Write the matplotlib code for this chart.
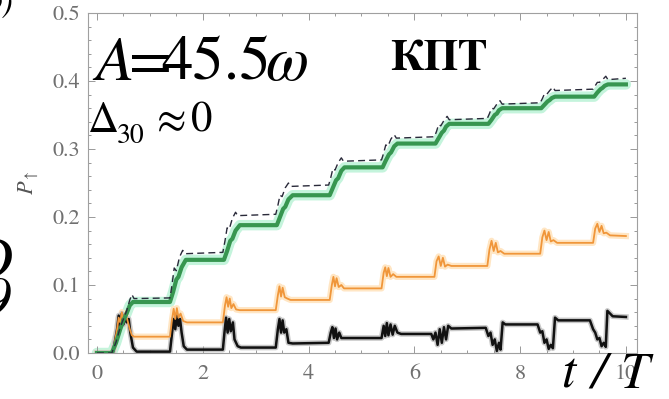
import matplotlib
matplotlib.use("Agg")
import matplotlib.pyplot as plt
from matplotlib.ticker import MultipleLocator

plt.rcParams['mathtext.fontset'] = 'stix'

# KPT population, solid green
green_t = [0, 0.28, 0.36, 0.44, 0.5, 0.56, 0.62, 0.68, 1.38,
           1.44, 1.5, 1.54, 1.6, 1.68, 2.4,
           2.46, 2.52, 2.56, 2.62, 2.7, 3.4,
           3.46, 3.52, 3.56, 3.62, 3.7, 4.4,
           4.46, 4.52, 4.56, 4.62, 4.68, 5.4,
           5.46, 5.52, 5.56, 5.62, 5.68, 6.4,
           6.46, 6.52, 6.56, 6.6, 6.66, 7.4,
           7.46, 7.52, 7.56, 7.6, 7.66, 8.4,
           8.46, 8.52, 8.56, 8.6, 8.66, 9.4,
           9.46, 9.52, 9.56, 9.6, 9.66, 10.0]
green_p = [0, 0, 0.015, 0.035, 0.048, 0.058, 0.07, 0.075, 0.075,
           0.09, 0.108, 0.112, 0.126, 0.137, 0.137,
           0.15, 0.165, 0.168, 0.18, 0.188, 0.188,
           0.2, 0.212, 0.215, 0.226, 0.232, 0.232,
           0.243, 0.254, 0.257, 0.268, 0.273, 0.273,
           0.283, 0.292, 0.295, 0.304, 0.308, 0.308,
           0.316, 0.324, 0.327, 0.333, 0.337, 0.337,
           0.343, 0.35, 0.352, 0.357, 0.36, 0.36,
           0.365, 0.37, 0.372, 0.375, 0.377, 0.377,
           0.383, 0.388, 0.39, 0.393, 0.395, 0.395]

# exact numerics, dashed
dash_t = [0, 0.28, 0.36, 0.44, 0.5, 0.56, 0.62, 0.66, 0.7, 1.38,
          1.42, 1.46, 1.5, 1.56, 1.62, 1.66, 2.38,
          2.42, 2.46, 2.5, 2.56, 2.62, 2.66, 3.38,
          3.42, 3.46, 3.5, 3.56, 3.62, 3.66, 4.38,
          4.42, 4.46, 4.5, 4.56, 4.62, 4.66, 5.38,
          5.42, 5.46, 5.5, 5.56, 5.62, 5.66, 6.38,
          6.42, 6.46, 6.5, 6.56, 6.62, 6.66, 7.38,
          7.42, 7.46, 7.5, 7.56, 7.62, 7.66, 8.38,
          8.42, 8.46, 8.5, 8.56, 8.62, 8.66, 9.38,
          9.42, 9.46, 9.5, 9.56, 9.62, 9.66, 10.0]
dash_p = [0, 0, 0.016, 0.038, 0.05, 0.062, 0.078, 0.086, 0.08, 0.081,
          0.101, 0.125, 0.121, 0.141, 0.151, 0.146, 0.148,
          0.165, 0.184, 0.182, 0.198, 0.207, 0.202, 0.204,
          0.217, 0.232, 0.230, 0.243, 0.250, 0.245, 0.247,
          0.258, 0.271, 0.269, 0.280, 0.287, 0.282, 0.284,
          0.294, 0.306, 0.304, 0.315, 0.321, 0.316, 0.318,
          0.326, 0.336, 0.334, 0.342, 0.348, 0.343, 0.345,
          0.352, 0.360, 0.359, 0.366, 0.371, 0.366, 0.368,
          0.374, 0.381, 0.380, 0.386, 0.391, 0.386, 0.388,
          0.393, 0.398, 0.398, 0.402, 0.407, 0.402, 0.404]

# orange curve
orange_t = [0, 0.3, 0.38, 0.41, 0.44, 0.47, 0.5, 0.53, 0.57, 0.62, 0.66, 0.7, 1.38,
            1.42, 1.45, 1.48, 1.51, 1.54, 1.58, 1.63, 1.7, 2.38,
            2.42, 2.45, 2.48, 2.51, 2.54, 2.58, 2.63, 2.7, 3.38,
            3.42, 3.45, 3.48, 3.51, 3.55, 3.6, 3.66, 4.4,
            4.44, 4.47, 4.5, 4.53, 4.57, 4.62, 4.67, 5.38,
            5.42, 5.45, 5.48, 5.51, 5.55, 5.6, 5.66, 6.38,
            6.42, 6.46, 6.5, 6.54, 6.58, 6.63, 6.7, 7.38,
            7.42, 7.46, 7.5, 7.54, 7.58, 7.63, 7.7, 8.38,
            8.42, 8.46, 8.5, 8.54, 8.58, 8.63, 8.7, 9.38,
            9.42, 9.46, 9.5, 9.54, 9.58, 9.63, 9.7, 10.0]
orange_p = [0, 0, 0.035, 0.052, 0.045, 0.06, 0.048, 0.058, 0.05, 0.035, 0.026, 0.024, 0.024,
            0.05, 0.065, 0.05, 0.066, 0.052, 0.058, 0.047, 0.045, 0.045,
            0.07, 0.082, 0.068, 0.08, 0.066, 0.072, 0.064, 0.063, 0.063,
            0.085, 0.098, 0.083, 0.096, 0.082, 0.08, 0.078, 0.078,
            0.1, 0.112, 0.098, 0.11, 0.097, 0.1, 0.095, 0.095,
            0.118, 0.126, 0.113, 0.125, 0.112, 0.116, 0.112, 0.112,
            0.135, 0.142, 0.128, 0.14, 0.127, 0.13, 0.128, 0.128,
            0.152, 0.165, 0.15, 0.162, 0.148, 0.15, 0.146, 0.146,
            0.17, 0.18, 0.166, 0.178, 0.164, 0.166, 0.162, 0.162,
            0.183, 0.19, 0.178, 0.187, 0.176, 0.177, 0.173, 0.172]

# black curve
black_t = [0, 0.3, 0.38, 0.41, 0.44, 0.47, 0.5, 0.53, 0.56, 0.6, 0.63, 0.68, 0.75, 1.38,
           1.42, 1.45, 1.48, 1.51, 1.54, 1.57, 1.6, 1.64, 1.7, 2.38,
           2.41, 2.44, 2.47, 2.5, 2.53, 2.57, 2.6, 2.66, 2.72, 3.38,
           3.42, 3.45, 3.48, 3.51, 3.54, 3.58, 3.62, 3.7, 4.38,
           4.42, 4.45, 4.48, 4.51, 4.54, 4.58, 4.62, 4.7, 5.38,
           5.42, 5.45, 5.48, 5.51, 5.55, 5.59, 5.63, 5.68, 5.75, 6.32,
           6.36, 6.4, 6.44, 6.48, 6.52, 6.56, 6.6, 6.64, 6.7, 7.35,
           7.4, 7.44, 7.48, 7.52, 7.56, 7.6, 7.63, 7.67, 7.72, 8.33,
           8.38, 8.42, 8.46, 8.5, 8.54, 8.58, 8.62, 8.66, 8.72, 9.32,
           9.38, 9.42, 9.46, 9.5, 9.54, 9.58, 9.62, 9.65, 9.7, 9.75, 10.0]
black_p = [0, 0, 0.035, 0.055, 0.04, 0.058, 0.042, 0.056, 0.045, 0.05, 0.03, 0.008, 0.002, 0.002,
           0.03, 0.05, 0.035, 0.055, 0.04, 0.05, 0.03, 0.01, 0.005, 0.005,
           0.03, 0.052, 0.03, 0.05, 0.032, 0.045, 0.02, 0.01, 0.008, 0.008,
           0.035, 0.05, 0.03, 0.048, 0.03, 0.035, 0.015, 0.014, 0.015,
           0.03, 0.038, 0.022, 0.036, 0.02, 0.03, 0.022, 0.022, 0.022,
           0.04, 0.025, 0.044, 0.026, 0.042, 0.027, 0.04, 0.03, 0.028, 0.028,
           0.02, 0.03, 0.012, 0.035, 0.015, 0.038, 0.02, 0.04, 0.036, 0.037,
           0.025, 0.03, 0.012, 0.02, 0.003, 0.015, 0.005, 0.045, 0.042, 0.042,
           0.03, 0.032, 0.015, 0.02, 0.006, 0.012, 0.007, 0.052, 0.048, 0.048,
           0.035, 0.03, 0.02, 0.022, 0.01, 0.015, 0.009, 0.062, 0.058, 0.054, 0.053]

xticks = [0, 2, 4, 6, 8, 10]
yticks = [0.0, 0.1, 0.2, 0.3, 0.4, 0.5]

serif = 'STIXGeneral'

W, H = 669, 399
fig = plt.figure(figsize=(W / 100, H / 100), dpi=100)
ax = fig.add_axes([88 / W, 1 - 353 / H, (637 - 88) / W, (353 - 13) / H])

# soft halos under the curves
ax.plot(green_t, green_p, color='#c4f4dc', lw=7.5, solid_capstyle='round', zorder=1)
ax.plot(orange_t, orange_p, color='#ffe6c4', lw=4.5, zorder=1)
ax.plot(black_t, black_p, color='#c8c8c8', lw=4, zorder=1)

ax.plot(black_t, black_p, color='#111111', lw=1.8, zorder=3)
ax.plot(orange_t, orange_p, color='#f0963a', lw=1.3, zorder=3)
ax.plot(green_t, green_p, color='#379650', lw=3.0, zorder=4)
ax.plot(dash_t, dash_p, color='#2a2a3a', lw=1.0, dashes=(5, 3), zorder=5)

ax.set_xlim(-0.17, 10.21)
ax.set_ylim(0, 0.5)
ax.set_xticks(xticks)
ax.set_xticklabels([str(v) for v in xticks])
ax.set_yticks(yticks)
ax.set_yticklabels(['%.1f' % v for v in yticks])
ax.xaxis.set_minor_locator(MultipleLocator(0.5))
ax.yaxis.set_minor_locator(MultipleLocator(0.02))
ax.tick_params(which='both', direction='in', top=True, right=True,
               color='#999999', width=0.7)
ax.tick_params(which='major', length=5)
ax.tick_params(which='minor', length=2.5)
ax.tick_params(axis='x', which='major', pad=8)
ax.tick_params(axis='y', which='major', pad=6)
for lab in ax.get_xticklabels() + ax.get_yticklabels():
    lab.set_family(serif)
    lab.set_fontsize(16)
    lab.set_color('#707070')
for sp in ax.spines.values():
    sp.set_color('#a0a0a0')
    sp.set_linewidth(0.8)

ax.set_ylabel(r'$P_{\uparrow}$', fontsize=16, color='#555555')
ax.yaxis.set_label_coords(-0.085, (353 - 183) / 340)


def put(x, y, s, size, **kw):
    fig.text(x / W, 1 - y / H, s, fontsize=size, family=serif,
             va='baseline', ha='left', **kw)


# A = 45.5 omega
put(95, 80, 'A', 45, style='italic')
put(129, 80, '=', 45)
put(161, 80, '45.5', 45)
put(265, 80, 'ω', 45, style='italic')

# Delta_30 ~ 0
put(88, 132, 'Δ', 31)
put(117, 143, '30', 20)
put(157, 132, '≈', 31)
put(191, 132, '0', 31)

put(390, 70, 'КПТ', 32, weight='bold')

# t / T axis caption
put(561, 388, 't', 37, style='italic')
put(591, 388, '/', 37, style='italic')
put(621, 388, 'T', 37, style='italic')

# fragments of neighbouring panel labels at the left edge
fig.text(13 / W, 1 - 4 / H, 'b)', fontsize=24, style='italic',
         family=serif, va='center', ha='right')
fig.text(13 / W, 1 - 278 / H, 'D', fontsize=42, style='italic',
         family=serif, va='baseline', ha='right')
fig.text(11 / W, 1 - 316 / H, '9', fontsize=42, style='italic',
         family=serif, va='baseline', ha='right')

fig.savefig('out.png', dpi=100)
